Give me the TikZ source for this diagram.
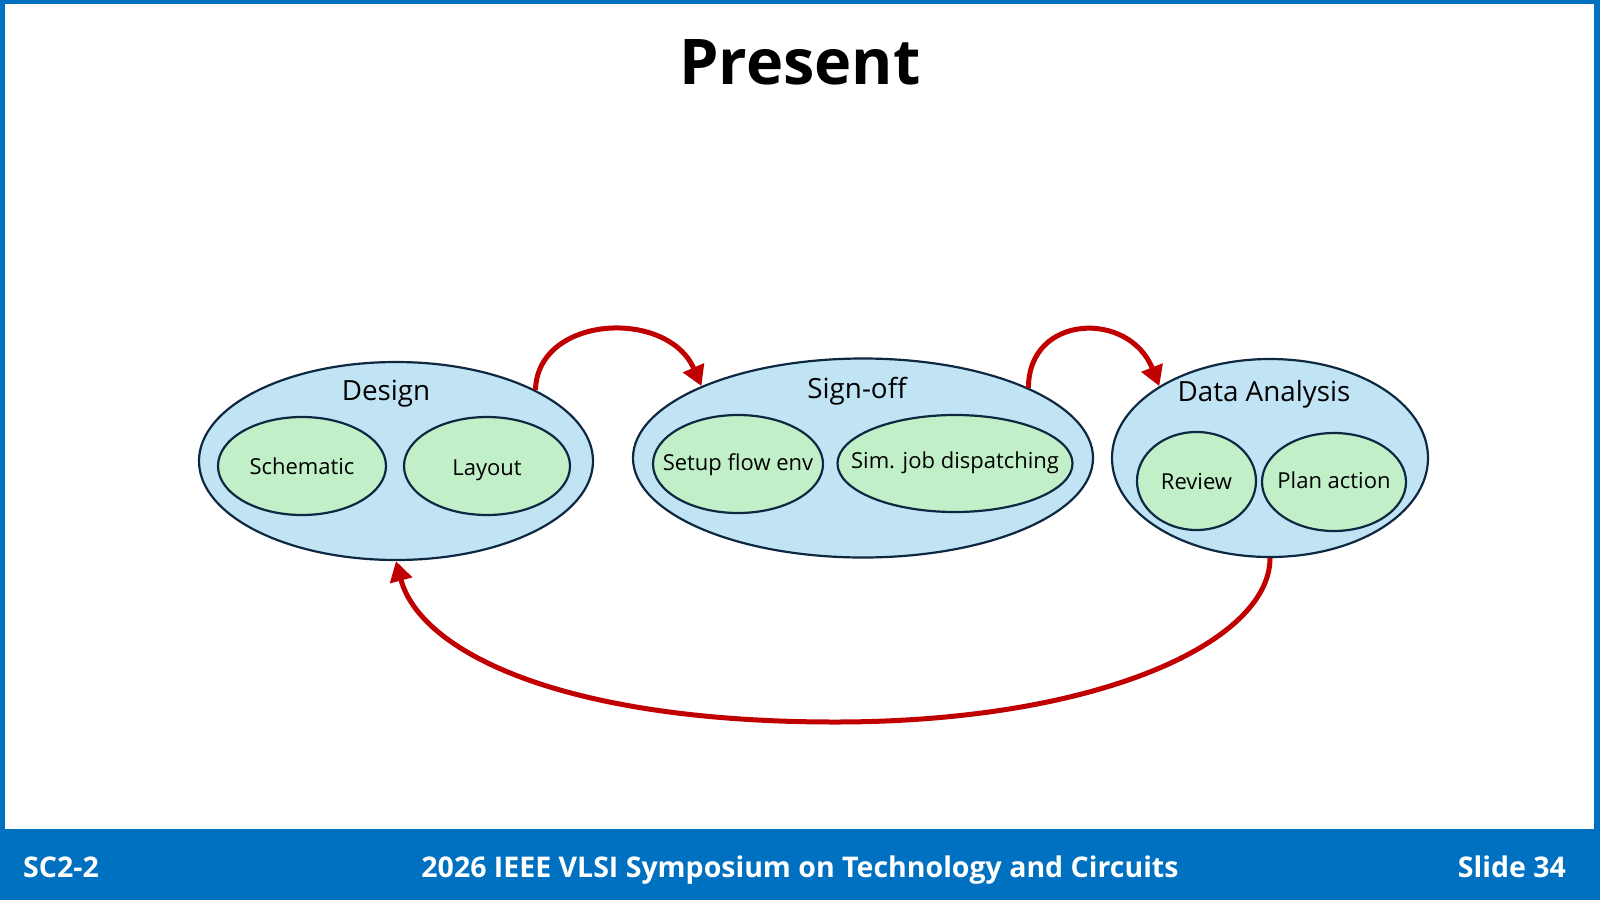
\documentclass[tikz,border=0pt]{standalone}
\usepackage{fontspec}
\setmainfont{Open Sans}
\newfontfamily\titlefont{Open Sans}
\newfontfamily\footfont{Open Sans}
\usetikzlibrary{shapes.geometric,arrows.meta}
\definecolor{frameblue}{HTML}{0070C0}
\definecolor{outerfill}{HTML}{C1E4F5}
\definecolor{innerfill}{HTML}{C1F0C8}
\definecolor{edge}{HTML}{0E2841}
\definecolor{arrowred}{HTML}{C00000}
\tikzset{
  outer/.style={ellipse, draw=edge, fill=outerfill, line width=2.2pt, inner sep=0pt},
  inner/.style={ellipse, draw=edge, fill=innerfill, line width=2.2pt, inner sep=0pt},
  grouplabel/.style={anchor=base, inner sep=0pt, font=\fontsize{27.8}{32}\selectfont, text=black},
  itemlabel/.style={anchor=base, inner sep=0pt, font=\fontsize{22}{26}\selectfont, text=black},
  flow/.style={draw=arrowred, line width=5pt, -{Triangle[length=20pt,width=22pt]}},
  foot/.style={inner sep=0pt, text=white, font=\footfont\bfseries\fontsize{28.5}{34}\selectfont}
}
\begin{document}
\begin{tikzpicture}[x=1pt,y=-1pt]
\useasboundingbox (0,0) rectangle (1600,900);
% frame
\fill[frameblue] (0,0) rectangle (1600,4);
\fill[frameblue] (0,0) rectangle (5,900);
\fill[frameblue] (1594,0) rectangle (1600,900);
\fill[frameblue] (0,829) rectangle (1600,900);
% title
\node[anchor=base, inner sep=0pt, font=\titlefont\bfseries\fontsize{63}{75}\selectfont] (title) at (800,84) {Present};
% groups
\node[outer, minimum width=394pt, minimum height=198pt] (design) at (396,461) {};
\node[outer, minimum width=460pt, minimum height=199pt] (signoff) at (863,458) {};
\node[outer, minimum width=316pt, minimum height=198pt] (data) at (1270,458) {};
\node[grouplabel] (designlbl) at (386,400) {Design};
\node[grouplabel] (signofflbl) at (857,398) {Sign-off};
\node[grouplabel] (datalbl) at (1264,401) {Data Analysis};
% items
\node[inner, minimum width=168pt, minimum height=98pt] (schem) at (302,466) {};
\node[inner, minimum width=166pt, minimum height=98pt] (layout) at (487,466) {};
\node[inner, minimum width=170pt, minimum height=98pt] (setup) at (738,464) {};
\node[inner, minimum width=235pt, minimum height=97pt] (sim) at (955,463.5) {};
\node[inner, minimum width=119pt, minimum height=98pt] (review) at (1196.5,481) {};
\node[inner, minimum width=144pt, minimum height=98pt] (plan) at (1334,482) {};
\node[itemlabel] (schemlbl) at (302,474) {Schematic};
\node[itemlabel] (layoutlbl) at (487,475) {Layout};
\node[itemlabel] (setuplbl) at (738,470) {Setup flow env};
\node[itemlabel] (simlbl) at (955,468) {Sim. job dispatching};
\node[itemlabel] (reviewlbl) at (1196.5,489) {Review};
\node[itemlabel] (planlbl) at (1334,488) {Plan action};
% connectors
\coordinate (bot) at (835,722);
\draw[flow] (design.27) .. controls +(2,-75) and +(-34,-78) .. (signoff.156.5);
\draw[flow] (signoff.23) .. controls +(0,-74) and +(-30,-76) .. (data.147);
\draw[flow] (data.south) .. controls +(0,83) and +(265,0) .. (bot) .. controls +(-275,0) and +(24,90) .. (design.south);
% footer
\node[foot, anchor=base west] (code) at (23,877) {SC2-2};
\node[foot, anchor=base] (conf) at (800,877) {2026 IEEE VLSI Symposium on Technology and Circuits};
\node[foot, anchor=base east] (slide) at (1566,877) {Slide 34};
\end{tikzpicture}
\end{document}
